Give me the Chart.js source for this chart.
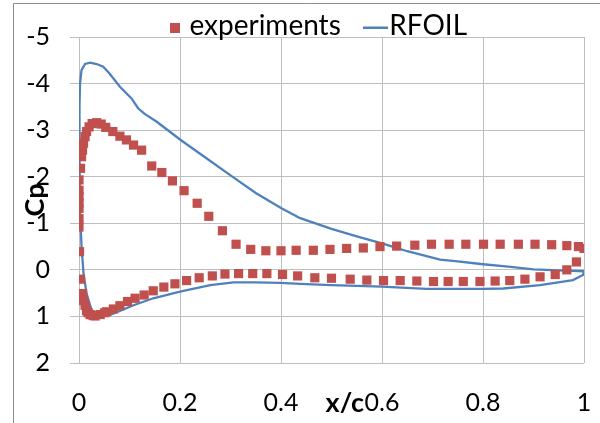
<!DOCTYPE html>
<html><head><meta charset="utf-8">
<script src="https://cdn.jsdelivr.net/npm/chart.js@4.4.1/dist/chart.umd.min.js"></script>
<style>html,body{margin:0;padding:0;background:#fff}#wrap{width:600px;height:423px}</style>
</head><body><div id="wrap"><canvas id="c" width="600" height="423"></canvas></div>
<script>
const seriesNames = ['experiments', 'RFOIL'];
const axisTitles = ['x/c', 'Cp'];

const expX = [0.001,0.000,0.000,0.000,0.000,0.000,0.000,0.000,0.003,0.005,0.007,0.009,0.012,0.015,0.020,0.026,0.035,0.044,0.053,0.067,0.081,0.094,0.108,0.124,0.144,0.164,0.185,0.208,0.234,0.257,0.284,0.311,0.340,0.370,0.400,0.430,0.464,0.497,0.530,0.563,0.596,0.629,0.665,0.698,0.733,0.766,0.801,0.834,0.870,0.903,0.936,0.966,0.989,1.000,
  0.003,0.007,0.009,0.012,0.015,0.018,0.022,0.028,0.032,0.042,0.051,0.055,0.068,0.081,0.096,0.111,0.129,0.147,0.168,0.190,0.213,0.238,0.264,0.289,0.316,0.344,0.372,0.403,0.433,0.467,0.500,0.537,0.570,0.603,0.636,0.669,0.702,0.731,0.761,0.794,0.824,0.853,0.883,0.913,0.943,0.966,0.985];
const expCp = [-0.39,-0.92,-1.10,-1.32,-1.43,-1.57,-1.71,-1.93,-2.18,-2.43,-2.57,-2.72,-2.86,-2.97,-3.07,-3.14,-3.16,-3.13,-3.06,-2.97,-2.87,-2.79,-2.68,-2.57,-2.23,-2.09,-1.91,-1.70,-1.43,-1.15,-0.84,-0.55,-0.44,-0.41,-0.41,-0.42,-0.42,-0.44,-0.46,-0.47,-0.50,-0.51,-0.53,-0.55,-0.55,-0.55,-0.55,-0.55,-0.55,-0.55,-0.54,-0.52,-0.50,-0.46,
  0.20,0.51,0.66,0.76,0.88,0.92,0.96,0.98,0.99,0.96,0.92,0.90,0.84,0.77,0.68,0.61,0.54,0.45,0.37,0.30,0.23,0.17,0.13,0.09,0.08,0.08,0.08,0.10,0.13,0.17,0.18,0.20,0.22,0.23,0.23,0.24,0.25,0.25,0.25,0.25,0.24,0.23,0.20,0.15,0.10,0.00,-0.17];

const rfoilX = [1.000,0.950,0.900,0.850,0.800,0.750,0.715,0.650,0.600,0.550,0.500,0.438,0.400,0.350,0.305,0.253,0.200,0.154,0.130,0.117,0.104,0.081,0.060,0.048,0.035,0.022,0.012,0.005,0.002,0.001,0.001,0.002,0.005,0.009,0.015,0.025,0.035,0.050,0.068,0.108,0.147,0.200,0.260,0.306,0.350,0.398,0.438,0.500,0.600,0.688,0.800,0.840,0.913,0.978,0.998,1.000];
const rfoilCp = [0.03,0.01,-0.01,-0.07,-0.12,-0.18,-0.22,-0.40,-0.57,-0.72,-0.88,-1.11,-1.33,-1.65,-1.99,-2.39,-2.80,-3.18,-3.35,-3.47,-3.68,-3.93,-4.22,-4.36,-4.42,-4.45,-4.42,-4.29,-4.00,-3.50,-2.50,-1.28,-0.50,0.08,0.51,0.87,1.01,0.99,0.94,0.76,0.61,0.47,0.33,0.27,0.27,0.28,0.30,0.33,0.36,0.41,0.41,0.40,0.33,0.22,0.11,0.03];

const xTicks = [0, 0.2, 0.4, 0.6, 0.8, 1];
const xTickLabels = ['0', '0.2', '0.4', '0.6', '0.8', '1'];
const yTicks = [-5, -4, -3, -2, -1, 0, 1, 2];
const yTickLabels = ['-5', '-4', '-3', '-2', '-1', '0', '1', '2'];

const RED = '#C0504D', BLUE = '#4F81BD', GRID = '#BEBEBE';
const FONT = 'Lato, "Liberation Sans", sans-serif';

function mkCanvas(w, h, draw) { const c = document.createElement('canvas'); c.width = w; c.height = h; draw(c.getContext('2d')); return c; }
const legendSquare = mkCanvas(10, 14, g => { g.fillStyle = RED; g.fillRect(0, 4, 10, 10); });
const legendLine = mkCanvas(25, 8, g => { g.fillStyle = BLUE; g.fillRect(0, 4.5, 25, 2.5); });

const expData = expX.map((x, i) => ({ x, y: expCp[i] }));
const rfoilData = rfoilX.map((x, i) => ({ x, y: rfoilCp[i] }));

const LEG_PAD = 34;
const framePlugin = {
  id: 'frame',
  beforeInit(chart) {
    const lg = chart.legend;
    if (lg) { const f = lg.fit; lg.fit = function () { f.call(this); this.height = 37; }; }
  },
  afterLayout(chart) {
    const lg = chart.legend;
    if (lg) { lg.left = 54; lg.right = 588; lg.top = 12 - LEG_PAD; lg.bottom = 62; lg.width = lg.right - lg.left; lg.height = lg.bottom - lg.top; }
  },
  beforeDraw(chart) {
    const g = chart.ctx; g.save();
    g.fillStyle = '#fff'; g.fillRect(0, 0, chart.width, chart.height);
    g.strokeStyle = '#8C8C8C'; g.lineWidth = 1;
    g.beginPath(); g.moveTo(13.5, chart.height); g.lineTo(13.5, 3.5); g.lineTo(chart.width, 3.5); g.stroke();
    g.restore();
  },
  afterDraw(chart) {
    const g = chart.ctx, xs = chart.scales.x, ys = chart.scales.y;
    g.save();
    g.fillStyle = '#000'; g.font = 'bold 27px ' + FONT; g.textBaseline = 'middle';
    g.textAlign = 'right';
    g.fillText(axisTitles[0], xs.getPixelForValue(0.6) - 18, xs.top + 40);
    g.translate(xs.left - 44, (ys.getPixelForValue(-2) + ys.getPixelForValue(-1)) / 2);
    g.rotate(-Math.PI / 2); g.textAlign = 'center';
    g.fillText(axisTitles[1], 0, 0);
    g.restore();
  }
};

new Chart(document.getElementById('c'), {
  type: 'scatter',
  data: {
    datasets: [
      { label: seriesNames[0], data: expData, showLine: false, pointStyle: 'rect', pointRadius: 6.5, pointHoverRadius: 6.5,
        backgroundColor: RED, borderColor: RED, borderWidth: 0 },
      { label: seriesNames[1], data: rfoilData, showLine: true, pointRadius: 0, borderColor: BLUE, backgroundColor: BLUE,
        borderWidth: 2.3, tension: 0, fill: false }
    ]
  },
  options: {
    responsive: false, animation: false, devicePixelRatio: 1,
    layout: { padding: { left: 14, right: 16, top: 0, bottom: 0 } },
    plugins: {
      tooltip: { enabled: false },
      legend: {
        display: true, position: 'top',
        labels: {
          color: '#000', font: { family: FONT, size: 28 }, usePointStyle: true, pointStyleWidth: 0.5, boxHeight: 28, padding: LEG_PAD,
          generateLabels(chart) {
            const items = Chart.defaults.plugins.legend.labels.generateLabels(chart);
            items[0].pointStyle = legendSquare; items[1].pointStyle = legendLine;
            return items;
          }
        }
      }
    },
    scales: {
      x: {
        type: 'linear', min: 0, max: 1,
        afterFit(s) { s.height = 60; s.paddingLeft = 0; s.paddingRight = 0; },
        afterBuildTicks(s) { s.ticks = xTicks.map(v => ({ value: v })); },
        grid: { color: GRID, lineWidth: 1, drawTicks: false },
        border: { display: false },
        ticks: { color: '#000', font: { family: FONT, size: 25 }, padding: 25, maxRotation: 0, autoSkip: false,
          callback: (v, i) => xTickLabels[i] }
      },
      y: {
        type: 'linear', min: -5, max: 2, reverse: true,
        afterFit(s) { s.width = 65; s.paddingTop = 0; s.paddingBottom = 0; },
        afterBuildTicks(s) { s.ticks = yTicks.map(v => ({ value: v })); },
        grid: { color: GRID, lineWidth: 1, drawTicks: true, tickLength: 9 },
        border: { display: false },
        ticks: { color: '#000', font: { family: FONT, size: 25 }, padding: 20, autoSkip: false,
          callback: (v, i) => yTickLabels[i] }
      }
    }
  },
  plugins: [framePlugin]
});
</script>
</body></html>
